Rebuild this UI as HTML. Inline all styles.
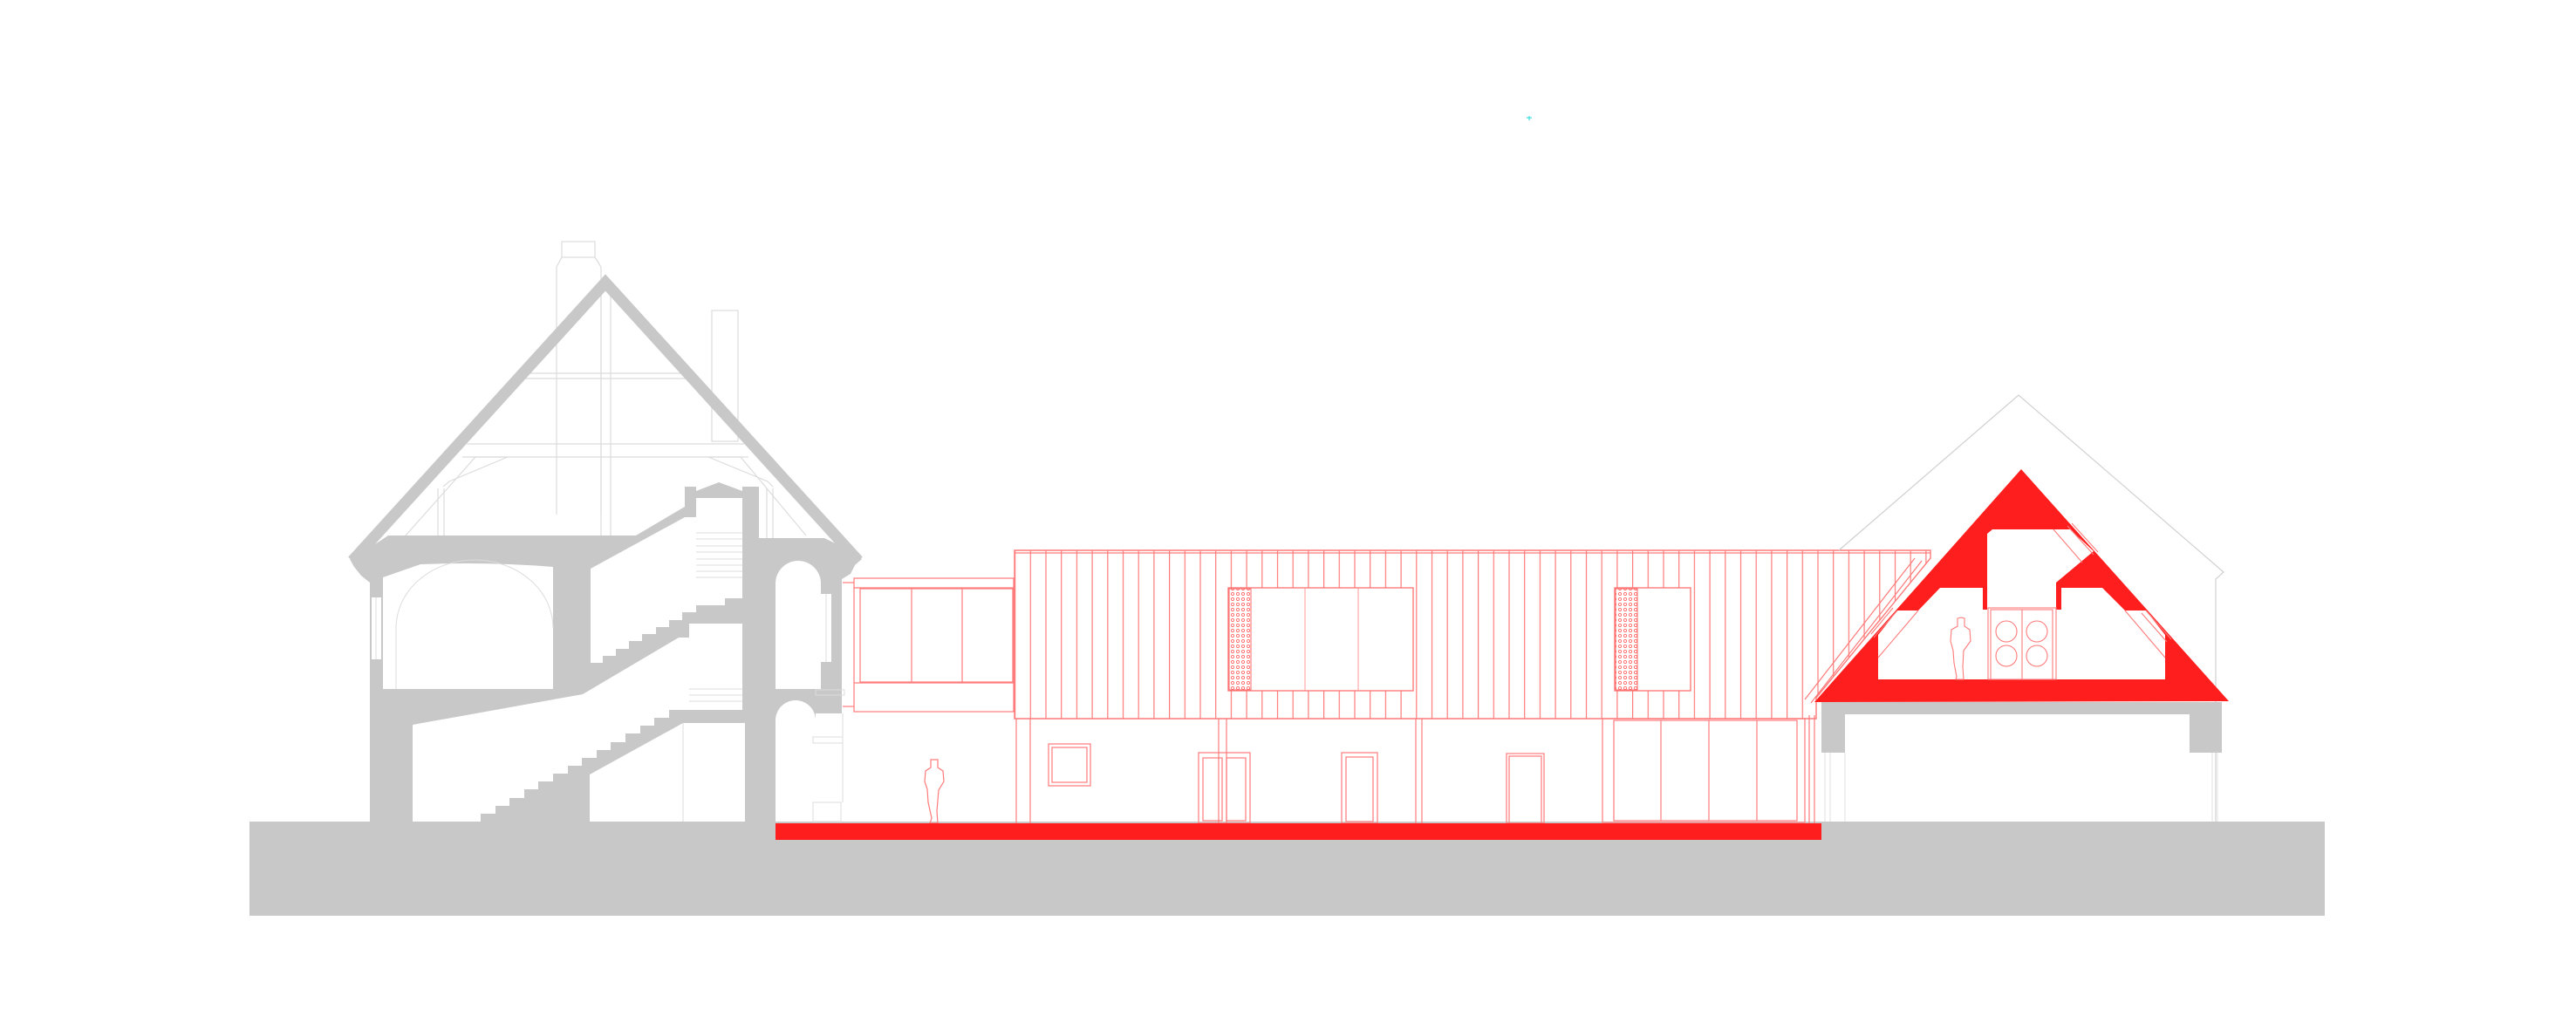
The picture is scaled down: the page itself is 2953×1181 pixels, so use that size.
<!DOCTYPE html>
<html><head><meta charset="utf-8"><style>html,body{margin:0;padding:0;background:#fff}svg{display:block}</style></head>
<body>
<svg width="2953" height="1181" viewBox="0 0 2953 1181" xmlns="http://www.w3.org/2000/svg">
<defs>
<pattern id="clad" x="1163" y="0" width="17.7" height="20" patternUnits="userSpaceOnUse">
<line x1="0.6" y1="0" x2="0.6" y2="20" stroke="#ff7a7a" stroke-width="1.2"/>
</pattern>
<pattern id="perf" x="0" y="0" width="6" height="6" patternUnits="userSpaceOnUse">
<rect width="6" height="6" fill="#fff"/><circle cx="3" cy="3" r="1.6" fill="none" stroke="#ff6a6a" stroke-width="0.9"/>
</pattern>
</defs>

<!-- ground -->
<rect x="286" y="942" width="2379" height="108" fill="#c8c8c8"/>

<!-- ===== LEFT HOUSE ===== -->
<g stroke="#dcdcdc" stroke-width="1.2" fill="none">
<rect x="644" y="277" width="38" height="18"/>
<polyline points="644,295 638,306 638,590"/><polyline points="682,295 689,306 689,590"/>
<rect x="816" y="356" width="30" height="150"/>
<line x1="605" y1="428" x2="783" y2="428"/><line x1="600" y1="434" x2="787" y2="434"/>
<line x1="535" y1="509" x2="853" y2="509"/><line x1="530" y1="524" x2="858" y2="524"/>
<line x1="689" y1="330" x2="689" y2="614"/><line x1="700" y1="330" x2="700" y2="614"/>
<polyline points="465,614 545,524 582,524 515,552 508,558"/>
<polyline points="924,614 849,524 812,524 880,552 886,558"/>
<line x1="502" y1="560" x2="502" y2="614"/><line x1="509" y1="560" x2="509" y2="614"/>
<line x1="879" y1="560" x2="879" y2="617"/><line x1="886" y1="560" x2="886" y2="617"/>
</g>
<polyline points="404,643 694,324 984,643" fill="none" stroke="#c8c8c8" stroke-width="13"/>
<polygon fill="#c8c8c8" points="401,641 424,628 445,614 729,614 785,581 785,558 798,558 798,563 824,553 851,563 851,558 870,558 870,617 945,617 972,630 988,641 980,648 975,658 965,664 965,818 935,818 935,942 424,942 424,668 414,660 406,650"/>
<g fill="#fff">
<rect x="426" y="685" width="11" height="71"/>
<path d="M439,662 L482,647 Q560,644 634,650 L634,790 L439,790 Z"/>
<polygon points="473,831 668,796 778,731 790,731 790,715 851,715 851,814 783,814 767,814 767,823 750,823 750,832 734,832 734,841 717,841 717,851 700,851 700,860 684,860 684,869 667,869 667,878 651,878 651,887 634,887 634,896 617,896 617,905 601,905 601,915 584,915 584,924 568,924 568,933 551,933 551,942 473,942"/>
<polygon points="676,888 783,829 854,829 854,942 676,942"/>
<polygon points="677,652 785,593 798,593 798,571 851,571 851,686 831,686 831,694 798,694 798,702 782,702 782,711 767,711 767,719 752,719 752,727 736,727 736,735 721,735 721,744 706,744 706,752 691,752 691,760 677,760"/>
<path d="M889,790 L889,669 A26,26 0 0 1 941,669 L941,790 Z"/>
<path d="M889,942 L889,826 A22,22 0 0 1 935,826 L935,942 Z"/>
<rect x="941" y="681" width="12" height="78"/>
</g>
<g stroke="#dcdcdc" stroke-width="1" fill="none">
<path d="M454,790 L454,720 A90,78 0 0 1 634,720"/>
<line x1="798" y1="611" x2="851" y2="611"/><line x1="798" y1="618" x2="851" y2="618"/><line x1="798" y1="626" x2="851" y2="626"/><line x1="798" y1="633" x2="851" y2="633"/><line x1="798" y1="641" x2="851" y2="641"/><line x1="798" y1="648" x2="851" y2="648"/><line x1="798" y1="655" x2="851" y2="655"/><line x1="798" y1="662" x2="851" y2="662"/>
<line x1="790" y1="790" x2="851" y2="790"/><line x1="790" y1="797" x2="851" y2="797"/><line x1="790" y1="804" x2="851" y2="804"/>
<line x1="783" y1="829" x2="783" y2="942"/>
<line x1="431" y1="685" x2="431" y2="756"/>
<line x1="947" y1="681" x2="947" y2="759"/>
<rect x="935" y="791" width="33" height="6"/><rect x="932" y="845" width="34" height="7"/><rect x="932" y="920" width="32" height="22"/>
<line x1="966" y1="818" x2="966" y2="920"/>
</g>

<!-- ===== MIDDLE ===== -->
<g fill="none" stroke="#ff7a7a" stroke-width="1.2">
<rect x="979" y="663" width="183" height="153"/>
<line x1="979" y1="674" x2="1162" y2="674"/>
<rect x="986" y="675" width="175" height="107"/>
<line x1="1045" y1="675" x2="1045" y2="782"/><line x1="1103" y1="675" x2="1103" y2="782"/>
<line x1="979" y1="783" x2="1162" y2="783"/>
<line x1="966" y1="668" x2="979" y2="668"/><line x1="966" y1="810" x2="979" y2="810"/>
</g>
<polygon points="1163,631 2213,631 2213,640 2082,800 2082,824 1163,824" fill="url(#clad)" stroke="#ff7a7a" stroke-width="1.4"/>
<line x1="1163" y1="634" x2="2213" y2="634" stroke="#ff7a7a" stroke-width="1.2"/>
<rect x="1408" y="674" width="212" height="118" fill="#fff" stroke="#ff7a7a" stroke-width="1.4"/>
<rect x="1409" y="675" width="25" height="116" fill="url(#perf)" stroke="#ff6a6a"/>
<line x1="1496" y1="674" x2="1496" y2="792" stroke="#ff9a9a"/><line x1="1557" y1="674" x2="1557" y2="792" stroke="#ff9a9a"/>
<rect x="1851" y="674" width="87" height="118" fill="#fff" stroke="#ff7a7a" stroke-width="1.4"/>
<rect x="1852" y="675" width="25" height="116" fill="url(#perf)" stroke="#ff6a6a"/>
<g fill="none" stroke="#ff7a7a" stroke-width="1.2">
<line x1="1165" y1="824" x2="1165" y2="944"/><line x1="1181" y1="824" x2="1181" y2="944"/>
<line x1="1397" y1="824" x2="1397" y2="944"/><line x1="1406" y1="824" x2="1406" y2="944"/>
<line x1="1623" y1="824" x2="1623" y2="944"/><line x1="1630" y1="824" x2="1630" y2="944"/>
<rect x="1202" y="853" width="48" height="48"/><rect x="1206" y="857" width="40" height="40"/>
<rect x="1374" y="863" width="59" height="81"/><rect x="1379" y="869" width="22" height="72"/><rect x="1406" y="869" width="22" height="72"/>
<rect x="1538" y="863" width="41" height="81"/><rect x="1543" y="868" width="31" height="74"/>
<rect x="1727" y="864" width="43" height="80"/><rect x="1730" y="867" width="37" height="77"/>
<rect x="1837" y="824" width="232" height="119"/>
<rect x="1850" y="826" width="210" height="115"/>
<line x1="1904" y1="826" x2="1904" y2="941"/><line x1="1959" y1="826" x2="1959" y2="941"/><line x1="2014" y1="826" x2="2014" y2="941"/>
<line x1="2074" y1="820" x2="2074" y2="944"/><line x1="2080" y1="820" x2="2080" y2="944"/>
<path d="M1071,871 L1067,871 L1067,880 L1061,884 L1060,896 L1063,905 L1064,920 L1068,938 L1066,944 L1075,944 L1074,930 L1076,906 L1082,896 L1081,884 L1075,880 L1075,871 Z"/>
<line x1="2069" y1="802" x2="2195" y2="640"/><line x1="2076" y1="806" x2="2203" y2="643"/>
</g>
<rect x="889" y="944" width="1199" height="19" fill="#ff1e1e"/>

<!-- ===== RIGHT ===== -->
<polyline points="2108,631 2314,453 2549,656 2540,664 2540,942" fill="none" stroke="#d0d0d0" stroke-width="1.2"/>
<rect x="2088" y="805" width="459" height="14" fill="#c8c8c8"/>
<rect x="2088" y="805" width="27" height="58" fill="#c8c8c8"/>
<rect x="2510" y="805" width="37" height="58" fill="#c8c8c8"/>
<g stroke="#e0e0e0" fill="none"><line x1="2092" y1="863" x2="2092" y2="942"/><line x1="2098" y1="863" x2="2098" y2="942"/><line x1="2115" y1="863" x2="2115" y2="942"/><line x1="2536" y1="863" x2="2536" y2="942"/><line x1="2542" y1="863" x2="2542" y2="942"/></g>
<polygon points="2317,538 2555,804 2080,805" fill="#ff1e1e"/>
<polygon fill="#fff" points="2153,728 2175,700 2199,700 2224,674 2273,674 2273,699 2278,699 2278,612 2284,607 2373,607 2400,632 2357,668 2357,699 2363,699 2363,674 2410,674 2436,700 2460,700 2482,728 2482,779 2153,779"/>
<g fill="none" stroke="#ff7a7a" stroke-width="1.1">
<line x1="2354" y1="607" x2="2387" y2="645"/><line x1="2375" y1="600" x2="2405" y2="633"/><line x1="2370" y1="603" x2="2400" y2="636"/>
<line x1="2436" y1="700" x2="2482" y2="754"/><line x1="2460" y1="700" x2="2489" y2="733"/><line x1="2455" y1="703" x2="2484" y2="736"/>
<line x1="2199" y1="700" x2="2153" y2="754"/><line x1="2175" y1="700" x2="2148" y2="731"/><line x1="2170" y1="697" x2="2145" y2="727"/>
<rect x="2279" y="697" width="78" height="82"/><rect x="2282" y="699" width="71" height="80"/>
<line x1="2318" y1="699" x2="2318" y2="779"/>
<ellipse cx="2300" cy="724" rx="12" ry="12"/><ellipse cx="2335" cy="724" rx="12" ry="12"/>
<ellipse cx="2300" cy="752" rx="12" ry="12"/><ellipse cx="2335" cy="752" rx="12" ry="12"/>
<path d="M2248,708 L2244,709 L2244,718 L2237,722 L2236,735 L2239,746 L2240,760 L2243,776 L2242,779 L2251,779 L2250,765 L2251,746 L2259,735 L2258,722 L2252,718 L2252,709 Z"/>
</g>
<path d="M1750,135 l6,0 m-3,-2 l0,5" stroke="#40e0e0" stroke-width="1.2"/>
</svg>
</body></html>
